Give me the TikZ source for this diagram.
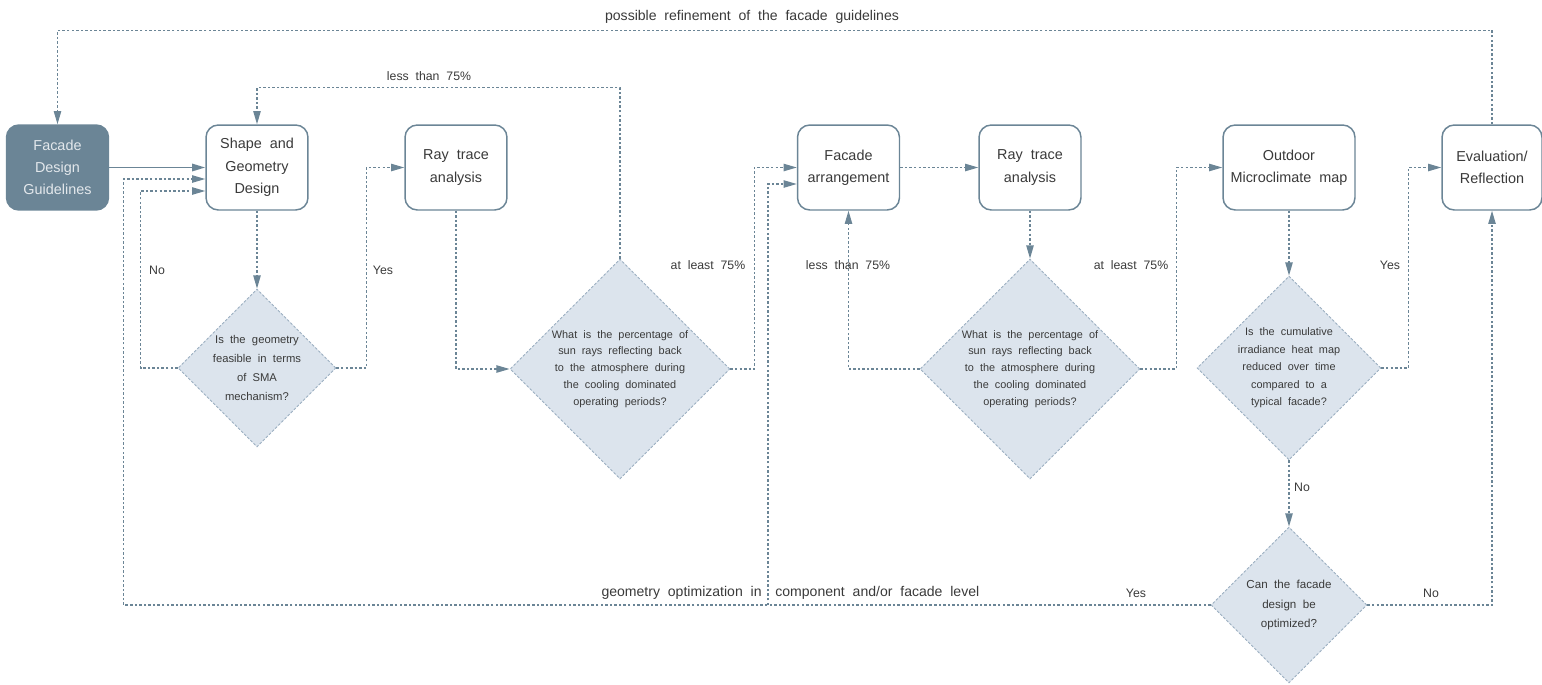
\documentclass[tikz,border=0pt]{standalone}
\usepackage{fontspec}
\setmainfont[WordSpace=2]{Liberation Sans}
\usetikzlibrary{shapes.geometric,arrows.meta,calc}

\definecolor{slate}{HTML}{6B8596}
\definecolor{decfill}{HTML}{DCE4ED}
\definecolor{decline}{HTML}{9AAEC0}
\definecolor{txtgray}{HTML}{3A3A3A}
\definecolor{guidetxt}{HTML}{E3E8EC}

\tikzset{
  box/.style={draw=slate, line width=0.85pt, rounded corners=7pt, fill=white,
    minimum width=2.04cm, minimum height=1.7cm, align=center, inner sep=2pt,
    text=txtgray, font=\fontsize{8.2}{12.7}\selectfont},
  guide/.style={box, fill=slate, text=guidetxt},
  decision/.style={diamond, fill=decfill, draw=decline, line width=0.5pt,
    dash pattern=on 1.5pt off 1pt, align=center, inner sep=0pt,
    text=txtgray, font=\fontsize{6.2}{9.6}\selectfont},
  flow/.style={draw=slate, line width=0.7pt, dash pattern=on 1.4pt off 1.2pt,
    -{Triangle[length=7.5pt,width=4.2pt]}},
  lbl/.style={text=txtgray, font=\fontsize{7}{8}\selectfont, inner sep=0pt},
}

\begin{document}
\begin{tikzpicture}[x=0.02cm, y=-0.02cm]
  \useasboundingbox (0,0) rectangle (1542,684);

  % process boxes
  \node[guide] (guide) at (57.5,167.5) {Facade\\Design\\Guidelines};
  \node[box] (shape) at (257,167.5) {Shape and\\Geometry\\Design};
  \node[box] (ray1) at (456,167.5) {Ray trace\\analysis};
  \node[box] (facade) at (848.5,167.5) {Facade\\arrangement};
  \node[box] (ray2) at (1030,167.5) {Ray trace\\analysis};
  \node[box, minimum width=2.64cm] (outdoor) at (1289,167.5) {Outdoor\\Microclimate map};
  \node[box, minimum width=2cm] (evalr) at (1492,167.5) {Evaluation/\\Reflection};

  % decisions
  \node[decision, minimum width=3.16cm, minimum height=3.16cm,
    font=\fontsize{6.4}{10.8}\selectfont] (d1) at (257,368)
    {Is the geometry\\feasible in terms\\of SMA\\mechanism?};
  \node[decision, minimum width=4.4cm, minimum height=4.4cm] (d2) at (620,369)
    {What is the percentage of\\sun rays reflecting back\\to the atmosphere during\\the cooling dominated\\operating periods?};
  \node[decision, minimum width=4.4cm, minimum height=4.4cm] (d3) at (1030,369)
    {What is the percentage of\\sun rays reflecting back\\to the atmosphere during\\the cooling dominated\\operating periods?};
  \node[decision, minimum width=3.68cm, minimum height=3.68cm,
    font=\fontsize{6.2}{10}\selectfont] (d4) at (1289,368)
    {Is the cumulative\\irradiance heat map\\reduced over time\\compared to a\\typical facade?};
  \node[decision, minimum width=3.12cm, minimum height=3.12cm,
    font=\fontsize{6.6}{11}\selectfont] (d5) at (1289,605)
    {Can the facade\\design be\\optimized?};

  % connectors
  \draw[draw=slate, line width=1.1pt, -{Triangle[length=7.5pt,width=4.2pt]}] (guide.east) -- (shape.west);
  \draw[flow] (evalr.north) -- ++(0,-94) -| (guide.north);
  \draw[flow] (d2.north) -- ++(0,-171) -| (shape.north);
  \draw[flow] (shape.south) -- (d1.north);
  \draw[flow] (d1.west) -- ++(-37,0) |- ($(shape.west)+(0,23.5)$);
  \draw[flow] (d1.east) -- ++(30,0) |- (ray1.west);
  \draw[flow] (ray1.south) |- (d2.west);
  \draw[flow] (d2.east) -- ++(24,0) |- (facade.west);
  \draw[flow] (d5.west) -- ++(-1087,0) |- ($(shape.west)+(0,11.5)$);
  \coordinate (split) at (768,605);
  \draw[flow] (split) |- ($(facade.west)+(0,16.5)$);
  \draw[flow] (facade.east) -- (ray2.west);
  \draw[flow] (ray2.south) -- (d3.north);
  \draw[flow] (d3.west) -| (facade.south);
  \draw[flow] (d3.east) -- ++(36,0) |- (outdoor.west);
  \draw[flow] (outdoor.south) -- (d4.north);
  \draw[flow] (d4.east) -- ++(27,0) |- (evalr.west);
  \draw[flow] (d4.south) -- (d5.north);
  \draw[flow] (d5.east) -| (evalr.south);

  % labels
  \node[lbl, font=\fontsize{8}{9}\selectfont] (refine) at (752,17) {possible refinement of the facade guidelines};
  \node[lbl] (less1) at (429,76) {less than 75\%};
  \node[lbl] (no1) at (157,270) {No};
  \node[lbl] (yes1) at (383,270) {Yes};
  \node[lbl] (least1) at (708,265) {at least 75\%};
  \node[lbl] (less2) at (848,265) {less than 75\%};
  \node[lbl] (least2) at (1131,265) {at least 75\%};
  \node[lbl] (yes2) at (1390,265) {Yes};
  \node[lbl] (no2) at (1302,487) {No};
  \node[lbl, font=\fontsize{8}{9}\selectfont, anchor=east] (optim1) at (762,593) {geometry optimization in};
  \node[lbl, font=\fontsize{8}{9}\selectfont, anchor=west] (optim2) at (775,593) {component and/or facade level};
  \node[lbl] (yes3) at (1136,593) {Yes};
  \node[lbl] (no3) at (1431,593) {No};
\end{tikzpicture}
\end{document}
